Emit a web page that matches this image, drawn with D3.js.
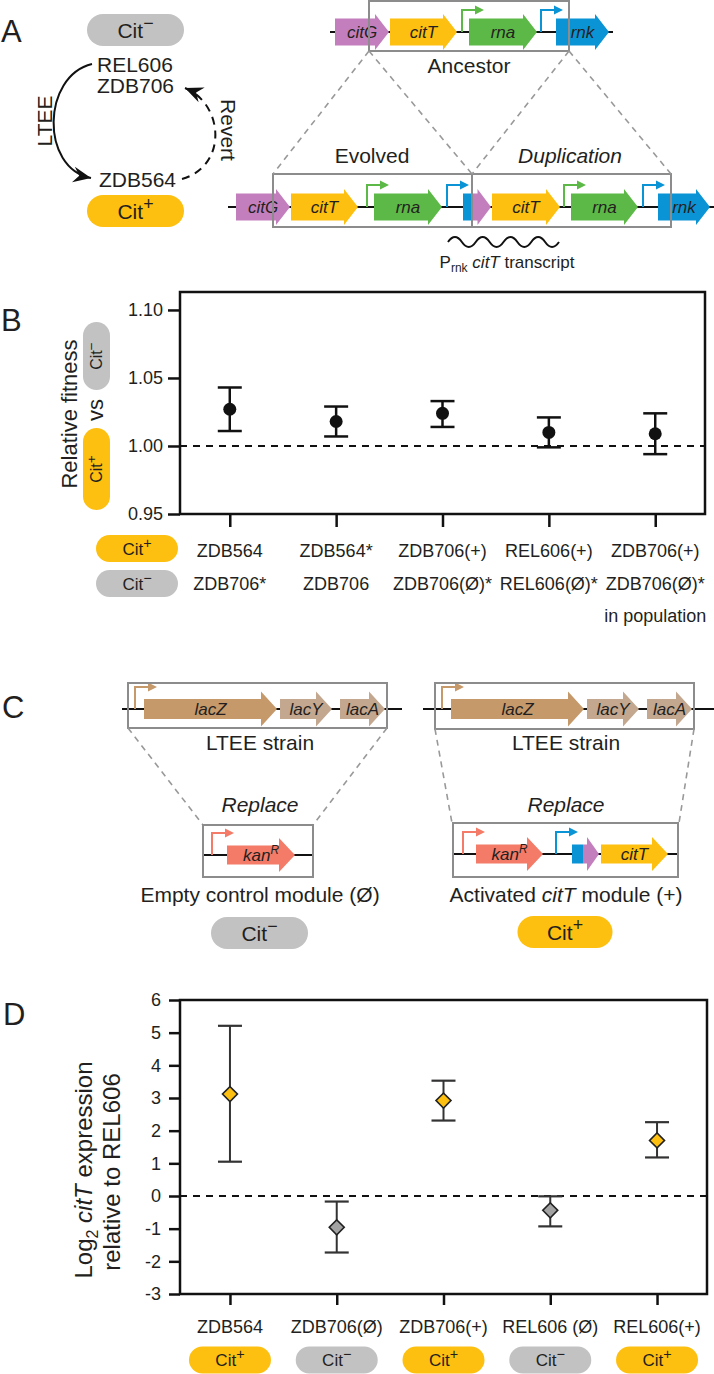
<!DOCTYPE html>
<html><head><meta charset="utf-8">
<script src="https://cdn.jsdelivr.net/npm/d3@7"></script>
<style>
body{margin:0;background:#fff}
text{font-family:"Liberation Sans",Arial,Helvetica,sans-serif;fill:#231f20}
</style>
</head><body>
<svg id="fig" width="714" height="1374"></svg>
<script>
// ---------------- DATA ----------------
// Panel B: relative fitness competitions
const fitCitPlus  = ["ZDB564", "ZDB564*", "ZDB706(+)", "REL606(+)", "ZDB706(+)"];
const fitCitMinus = ["ZDB706*", "ZDB706", "ZDB706(Ø)*", "REL606(Ø)*", "ZDB706(Ø)*"];
const fitNote     = ["", "", "", "", "in population"];
const fitMean     = [1.027, 1.018, 1.024, 1.010, 1.009];
const fitLow      = [1.011, 1.007, 1.014, 0.999, 0.994];
const fitHigh     = [1.043, 1.029, 1.033, 1.021, 1.024];
const fitTicks    = [0.95, 1.00, 1.05, 1.10];
const fitDomain   = [0.95, 1.1132];

// Panel D: citT expression
const exprStrains = ["ZDB564", "ZDB706(Ø)", "ZDB706(+)", "REL606 (Ø)", "REL606(+)"];
const exprPheno   = ["+", "−", "+", "−", "+"];
const exprMean    = [3.12, -0.96, 2.92, -0.44, 1.70];
const exprLow     = [1.05, -1.73, 2.31, -0.93, 1.18];
const exprHigh    = [5.21, -0.17, 3.53, -0.01, 2.26];
const exprTicks   = [-3, -2, -1, 0, 1, 2, 3, 4, 5, 6];
const exprDomain  = [-3, 6];

// Panel A: loci (relative coordinates along each locus)
const ancestorGenes = [
  {name:"citG", start:5,   end:59,  label:true},
  {name:"citT", start:60,  end:127, label:true},
  {name:"rna",  start:139, end:207, label:true},
  {name:"rnk",  start:226, end:279, label:true}
];
const ancestorPromoters = [{gene:"rna", at:132}, {gene:"rnk", at:211}];
const evolvedGenes = [
  {name:"citG", start:8,   end:62,  label:true},
  {name:"citT", start:63,  end:130, label:true},
  {name:"rna",  start:146, end:214, label:true},
  {name:"rnk",  start:235, end:245, block:true},
  {name:"citG", start:245, end:263},
  {name:"citT", start:264, end:332, label:true},
  {name:"rna",  start:343, end:410, label:true},
  {name:"rnk",  start:430, end:482, label:true}
];
const evolvedPromoters = [{gene:"rna", at:139}, {gene:"rnk", at:219}, {gene:"rna", at:336}, {gene:"rnk", at:415}];

// Panel C: lac locus and replacement modules
const lacGenes = [
  {name:"lacZ", start:22,  end:155, label:true},
  {name:"lacY", start:158, end:210, label:true},
  {name:"lacA", start:218, end:263, label:true}
];
const lacPromoters = [{gene:"lacZ", at:13}];
const emptyModule = [{name:"kanR", start:24, end:92, label:true}];
const emptyPromoters = [{gene:"kanR", at:9}];
const citModule = [
  {name:"kanR", start:23,  end:90,  label:true},
  {name:"rnk",  start:119, end:130, block:true},
  {name:"citG", start:130, end:146},
  {name:"citT", start:148, end:215, label:true}
];
const citPromoters = [{gene:"kanR", at:10}, {gene:"rnk", at:103}];

// ---------------- STYLE ----------------
const COL = {citG:"#c37fbd", citT:"#fdc010", rna:"#5db947", rnk:"#0b94d5",
             lacZ:"#c6996b", lacY:"#c3a78f", lacA:"#c3a78f", kanR:"#f37b68"};
const YELLOW = "#fdc010", GREYPILL = "#c2c2c2", BOXGREY = "#8c8c8c", INK = "#231f20";

const svg = d3.select("#fig");
svg.append("rect").attr("width",714).attr("height",1374).attr("fill","#fff");

// ---------------- HELPERS ----------------
function arrowPath(x0, x1, yc, geom){
  const bh = geom.body/2, hh = geom.head/2, hl = Math.min(geom.headLen, (x1-x0)*0.75);
  const p = d3.path();
  p.moveTo(x0, yc-bh); p.lineTo(x1-hl, yc-bh); p.lineTo(x1-hl, yc-hh); p.lineTo(x1, yc);
  p.lineTo(x1-hl, yc+hh); p.lineTo(x1-hl, yc+bh); p.lineTo(x0, yc+bh); p.closePath();
  return p.toString();
}
function promoter(g, x, yc, color, h, w){
  g.append("path").attr("d", `M${x},${yc}V${yc-h}H${x+w-7}`)
    .attr("fill","none").attr("stroke",color).attr("stroke-width",2);
  g.append("path").attr("d", `M${x+w},${yc-h}L${x+w-9},${yc-h-4.5}L${x+w-9},${yc-h+4.5}Z`).attr("fill",color);
}
function geneLabel(g, name, cx, yc, fs){
  const t = g.append("text").attr("x",cx).attr("y",yc+fs*0.36).attr("text-anchor","middle")
    .attr("font-size",fs).attr("font-style","italic");
  if(name === "kanR"){
    t.append("tspan").text("kan");
    t.append("tspan").attr("font-size",fs*0.7).attr("dy",-fs*0.4).text("R");
  } else t.text(name);
}
function drawLocus(g, sx, yc, line, genes, proms, geom){
  g.append("line").attr("x1",sx(line[0])).attr("x2",sx(line[1])).attr("y1",yc).attr("y2",yc)
    .attr("stroke","#111").attr("stroke-width",2);
  proms.forEach(p => promoter(g, sx(p.at), yc, COL[p.gene], geom.pH, geom.pW));
  genes.forEach(d => {
    const x0 = sx(d.start), x1 = sx(d.end);
    if(d.block) g.append("rect").attr("x",x0).attr("y",yc-geom.body/2).attr("width",x1-x0)
      .attr("height",geom.body).attr("fill",COL[d.name]);
    else g.append("path").attr("d",arrowPath(x0,x1,yc,geom)).attr("fill",COL[d.name]);
    if(d.label) geneLabel(g, d.name, (x0+x1)/2, yc, geom.fs);
  });
}
function box(g, x0, x1, y0, y1){
  g.append("rect").attr("x",x0).attr("y",y0).attr("width",x1-x0).attr("height",y1-y0)
    .attr("fill","none").attr("stroke",BOXGREY).attr("stroke-width",2);
}
function dashLine(g, x1, y1, x2, y2){
  g.append("line").attr("x1",x1).attr("y1",y1).attr("x2",x2).attr("y2",y2)
    .attr("stroke","#999").attr("stroke-width",1.6).attr("stroke-dasharray","6,5");
}
function pill(g, cx, cy, w, h, sign, fs, rot){
  const gg = g.append("g").attr("transform", `translate(${cx},${cy})` + (rot ? ` rotate(${rot})` : ""));
  gg.append("rect").attr("x",-w/2).attr("y",-h/2).attr("width",w).attr("height",h).attr("rx",h/2)
    .attr("fill", sign === "+" ? YELLOW : GREYPILL);
  const t = gg.append("text").attr("text-anchor","middle").attr("y",fs*0.36).attr("font-size",fs);
  t.append("tspan").text("Cit");
  t.append("tspan").attr("font-size",fs*0.85).attr("dy",-fs*0.4).text(sign === "+" ? "+" : "−");
}
function text(g, x, y, s, fs, anchor, italic){
  return g.append("text").attr("x",x).attr("y",y).attr("font-size",fs)
    .attr("text-anchor",anchor||"middle").attr("font-style", italic ? "italic" : null).text(s);
}
function panelLetter(x, y, s){ text(svg, x, y, s, 31, "start"); }

// arrow markers
const defs = svg.append("defs");
defs.append("marker").attr("id","arrowHead").attr("viewBox","-18 -9 20 18").attr("refX",0).attr("refY",0)
  .attr("markerWidth",20).attr("markerHeight",18).attr("markerUnits","userSpaceOnUse").attr("orient","auto")
  .append("path").attr("d","M0,0L-18,-8L-12,0L-18,8Z").attr("fill","#111");

// ================= PANEL A =================
panelLetter(1, 42, "A");
const gA = svg.append("g");
pill(gA, 135.5, 30, 97, 32, "−", 21);
pill(gA, 135.5, 211, 97, 32, "+", 21);
text(gA, 97, 72, "REL606", 21, "start");
text(gA, 97, 93, "ZDB706", 21, "start");
text(gA, 99, 187, "ZDB564", 21, "start");
gA.append("path").attr("d","M92,64 C42,76 40,168 91,178").attr("fill","none")
  .attr("stroke","#111").attr("stroke-width",2).attr("marker-end","url(#arrowHead)");
gA.append("path").attr("d","M182,179 C228,166 224,104 185,88").attr("fill","none")
  .attr("stroke","#111").attr("stroke-width",2).attr("stroke-dasharray","8,6").attr("marker-end","url(#arrowHead)");
gA.append("text").attr("transform","translate(52,121) rotate(-90)").attr("text-anchor","middle")
  .attr("font-size",21).text("LTEE");
gA.append("text").attr("transform","translate(221,130) rotate(90)").attr("text-anchor","middle")
  .attr("font-size",21).text("Revert");

const geomA = {body:27, head:36, headLen:14, pH:22, pW:22, fs:17};
const sxAnc = d3.scaleLinear().domain([0,283]).range([330,613]);
const yAnc = 32;
drawLocus(gA, sxAnc, yAnc, [0,283], ancestorGenes, ancestorPromoters, geomA);
box(gA, sxAnc(39), sxAnc(239), 1, 51);
text(gA, 469, 73, "Ancestor", 21);

const sxEvo = d3.scaleLinear().domain([0,486]).range([228,714]);
const yEvo = 207;
drawLocus(gA, sxEvo, yEvo, [0,486], evolvedGenes, evolvedPromoters, geomA);
box(gA, sxEvo(45), sxEvo(244), 174, 227);
box(gA, sxEvo(244), sxEvo(443), 174, 227);
dashLine(gA, sxAnc(39), 51, sxEvo(45), 174);
dashLine(gA, sxAnc(39), 51, sxEvo(244), 174);
dashLine(gA, sxAnc(239), 51, sxEvo(244), 174);
dashLine(gA, sxAnc(239), 51, sxEvo(443), 174);
text(gA, 372, 163, "Evolved", 21);
text(gA, 570, 163, "Duplication", 21, "middle", true);
// transcript wave
(function(){
  const x0 = 448, x1 = 559, yc = 242, n = 8, half = (x1-x0)/n, p = d3.path();
  p.moveTo(x0, yc);
  for(let i=0;i<n;i++){ const a = x0+i*half; p.quadraticCurveTo(a+half/2, yc + (i%2 ? 10 : -10), a+half, yc); }
  gA.append("path").attr("d",p.toString()).attr("fill","none").attr("stroke","#111").attr("stroke-width",2);
  const t = gA.append("text").attr("x",507).attr("y",268).attr("text-anchor","middle").attr("font-size",17);
  t.append("tspan").text("P");
  t.append("tspan").attr("font-size",12).attr("dy",4).text("rnk");
  t.append("tspan").attr("dy",-4).text(" ");
  t.append("tspan").attr("font-style","italic").text("citT");
  t.append("tspan").text(" transcript");
})();

// ================= PANEL B =================
panelLetter(1, 331, "B");
const gB = svg.append("g");
const xB = d3.scalePoint().domain(d3.range(fitMean.length)).range([180,705]).padding(0.468);
const yB = d3.scaleLinear().domain(fitDomain).range([514,292]);

gB.append("line").attr("x1",180).attr("x2",705).attr("y1",yB(1)).attr("y2",yB(1))
  .attr("stroke","#111").attr("stroke-width",2).attr("stroke-dasharray","7,6");
const axB = gB.append("g").attr("transform","translate(180,0)")
  .call(d3.axisLeft(yB).tickValues(fitTicks).tickFormat(d3.format(".2f")).tickSize(12).tickPadding(5));
axB.select(".domain").remove();
axB.selectAll("line").attr("stroke","#111").attr("stroke-width",2.5);
axB.selectAll("text").attr("font-size",18).attr("font-family",null).attr("fill",INK);
const axBx = gB.append("g").attr("transform","translate(0,514)")
  .call(d3.axisBottom(xB).tickSize(13).tickFormat(""));
axBx.select(".domain").remove();
axBx.selectAll("line").attr("stroke","#111").attr("stroke-width",2.5);
gB.append("rect").attr("x",180).attr("y",292).attr("width",525).attr("height",222)
  .attr("fill","none").attr("stroke","#111").attr("stroke-width",2.5);

const capB = 12;
fitMean.forEach((m,i) => {
  const x = xB(i);
  gB.append("line").attr("x1",x).attr("x2",x).attr("y1",yB(fitLow[i])).attr("y2",yB(fitHigh[i]))
    .attr("stroke","#111").attr("stroke-width",2.5);
  [fitLow[i], fitHigh[i]].forEach(v => gB.append("line").attr("x1",x-capB).attr("x2",x+capB)
    .attr("y1",yB(v)).attr("y2",yB(v)).attr("stroke","#111").attr("stroke-width",2.5));
  gB.append("circle").attr("cx",x).attr("cy",yB(m)).attr("r",6.5).attr("fill","#111");
  text(gB, x, 557, fitCitPlus[i], 18);
  text(gB, x, 590, fitCitMinus[i], 18);
  if(fitNote[i]) text(gB, x, 622, fitNote[i], 18);
});
pill(gB, 137, 548.5, 82, 27, "+", 17);
pill(gB, 137, 583.5, 82, 27, "−", 17);
gB.append("text").attr("transform","translate(77,414) rotate(-90)").attr("text-anchor","middle")
  .attr("font-size",22).text("Relative fitness");
gB.append("text").attr("transform","translate(103,410) rotate(-90)").attr("text-anchor","middle")
  .attr("font-size",22).text("vs");
pill(gB, 96.5, 356, 68, 27, "−", 16, -90);
pill(gB, 96.5, 469, 82, 27, "+", 16, -90);

// ================= PANEL C =================
panelLetter(2, 718, "C");
const gC = svg.append("g");
const geomC = {body:20, head:35, headLen:16, pH:22, pW:22, fs:17};
const geomM = {body:19, head:34, headLen:16, pH:22, pW:22, fs:17};
// left construct
const sxL = d3.scaleLinear().domain([0,280]).range([122,402]);
drawLocus(gC, sxL, 709, [0,280], lacGenes, lacPromoters, geomC);
box(gC, 128, 387, 683, 728);
text(gC, 260, 750, "LTEE strain", 21);
dashLine(gC, 128, 728, 203, 825);
dashLine(gC, 387, 728, 313, 825);
text(gC, 260, 812, "Replace", 21, "middle", true);
const sxLM = d3.scaleLinear().domain([0,110]).range([203,313]);
drawLocus(gC, sxLM, 855, [0,110], emptyModule, emptyPromoters, geomM);
box(gC, 203, 313, 825, 877);
text(gC, 260, 902, "Empty control module (Ø)", 21);
pill(gC, 259.5, 933, 97, 32, "−", 21);
// right construct
const sxR = d3.scaleLinear().domain([0,291]).range([423,714]);
drawLocus(gC, sxR, 709, [0,291], lacGenes.map(d => ({...d, start:d.start+6, end:d.end+6})),
  lacPromoters.map(p => ({...p, at:p.at+6})), geomC);
box(gC, 435, 694, 683, 729);
text(gC, 566, 750, "LTEE strain", 21);
dashLine(gC, 435, 729, 452, 823);
dashLine(gC, 694, 729, 679, 823);
text(gC, 566, 812, "Replace", 21, "middle", true);
const sxRM = d3.scaleLinear().domain([0,225]).range([453,678]);
drawLocus(gC, sxRM, 854, [0,225], citModule, citPromoters, geomM);
box(gC, 453, 678, 823, 877);
(function(){
  const t = gC.append("text").attr("x",566).attr("y",902).attr("text-anchor","middle").attr("font-size",21);
  t.append("tspan").text("Activated ");
  t.append("tspan").attr("font-style","italic").text("citT");
  t.append("tspan").text(" module (+)");
})();
pill(gC, 565, 932, 95, 32, "+", 21);

// ================= PANEL D =================
panelLetter(3, 1025, "D");
const gD = svg.append("g");
const xD = d3.scalePoint().domain(d3.range(exprMean.length)).range([180,707]).padding(0.468);
const yD = d3.scaleLinear().domain(exprDomain).range([1294,1000]);
gD.append("line").attr("x1",180).attr("x2",707).attr("y1",yD(0)).attr("y2",yD(0))
  .attr("stroke","#111").attr("stroke-width",2).attr("stroke-dasharray","7,6");
const axD = gD.append("g").attr("transform","translate(180,0)")
  .call(d3.axisLeft(yD).tickValues(exprTicks).tickFormat(d => String(d)).tickSize(11).tickPadding(8));
axD.select(".domain").remove();
axD.selectAll("line").attr("stroke","#111").attr("stroke-width",2.5);
axD.selectAll("text").attr("font-size",18).attr("font-family",null).attr("fill",INK);
const axDx = gD.append("g").attr("transform","translate(0,1294)")
  .call(d3.axisBottom(xD).tickSize(11).tickFormat(""));
axDx.select(".domain").remove();
axDx.selectAll("line").attr("stroke","#111").attr("stroke-width",2.5);
gD.append("rect").attr("x",180).attr("y",1000).attr("width",527).attr("height",294)
  .attr("fill","none").attr("stroke","#111").attr("stroke-width",2.5);

const capD = 12;
exprMean.forEach((m,i) => {
  const x = xD(i);
  gD.append("line").attr("x1",x).attr("x2",x).attr("y1",yD(exprLow[i])).attr("y2",yD(exprHigh[i]))
    .attr("stroke","#333").attr("stroke-width",2);
  [exprLow[i], exprHigh[i]].forEach(v => gD.append("line").attr("x1",x-capD).attr("x2",x+capD)
    .attr("y1",yD(v)).attr("y2",yD(v)).attr("stroke","#333").attr("stroke-width",2.2));
  gD.append("path").attr("d", d3.symbol(d3.symbolSquare, 112)())
    .attr("transform",`translate(${x},${yD(m)}) rotate(45)`)
    .attr("fill", exprPheno[i] === "+" ? YELLOW : "#a3a3a3").attr("stroke","#222").attr("stroke-width",1.6);
  text(gD, x, 1333, exprStrains[i], 18);
  pill(gD, x, 1360, 82, 27, exprPheno[i], 17);
});
(function(){
  const t1 = gD.append("text").attr("transform","translate(92,1170) rotate(-90)").attr("text-anchor","middle").attr("font-size",24);
  t1.append("tspan").text("Log");
  t1.append("tspan").attr("font-size",16).attr("dy",6).text("2");
  t1.append("tspan").attr("dy",-6).text(" ");
  t1.append("tspan").attr("font-style","italic").text("citT");
  t1.append("tspan").text(" expression");
  gD.append("text").attr("transform","translate(120,1172) rotate(-90)").attr("text-anchor","middle")
    .attr("font-size",24).text("relative to REL606");
})();
</script>
</body></html>
